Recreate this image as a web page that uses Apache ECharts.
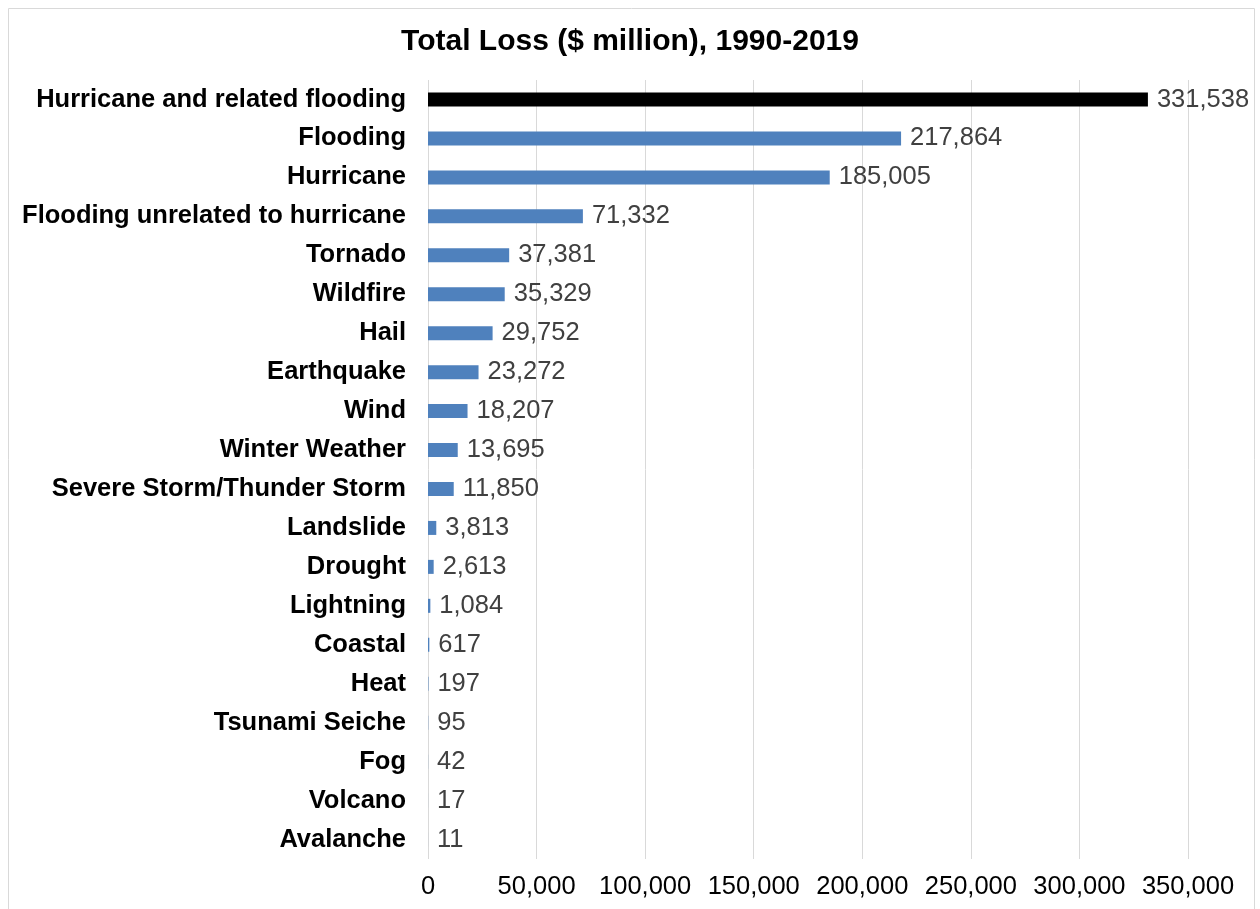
<!DOCTYPE html>
<html>
<head>
<meta charset="utf-8">
<script src="https://cdn.jsdelivr.net/npm/echarts@6/dist/echarts.min.js"></script>
<style>html,body{margin:0;padding:0;background:#fff}#c{width:1260px;height:909px}</style>
</head>
<body>
<div id="c"></div>
<script>
var categories = ["Hurricane and related flooding","Flooding","Hurricane","Flooding unrelated to hurricane","Tornado","Wildfire","Hail","Earthquake","Wind","Winter Weather","Severe Storm/Thunder Storm","Landslide","Drought","Lightning","Coastal","Heat","Tsunami Seiche","Fog","Volcano","Avalanche"];
var values = [331538,217864,185005,71332,37381,35329,29752,23272,18207,13695,11850,3813,2613,1084,617,197,95,42,17,11];
var highlightIndex = 0;
var xTicks = [0,50000,100000,150000,200000,250000,300000,350000];

var chart = echarts.init(document.getElementById('c'));
var font = '"Liberation Sans", Arial, sans-serif';
chart.setOption({
  animation: false,
  textStyle: {fontFamily: font},
  title: {
    text: 'Total Loss ($ million), 1990-2019',
    left: 'center', top: 22,
    textStyle: {fontFamily: font, fontSize: 30, fontWeight: 'bold', color: '#000'}
  },
  graphic: [{
    type: 'rect', shape: {x: 8.5, y: 8.5, width: 1246, height: 920},
    style: {fill: 'none', stroke: '#d9d9d9', lineWidth: 1}, silent: true
  }],
  grid: {left: 428, right: 72, top: 80, bottom: 50, containLabel: false},
  xAxis: {
    type: 'value', min: xTicks[0], max: xTicks[xTicks.length-1], interval: 50000,
    axisLine: {show: false}, axisTick: {show: false},
    splitLine: {show: true, lineStyle: {color: '#d9d9d9', width: 1}},
    axisLabel: {
      margin: 15, fontSize: 25.5, color: '#000', fontFamily: font,
      formatter: function(v){ return v.toLocaleString('en-US'); }
    }
  },
  yAxis: {
    type: 'category', data: categories, inverse: true,
    axisLine: {show: false}, axisTick: {show: false},
    axisLabel: {margin: 22, fontSize: 25.5, fontWeight: 'bold', color: '#000', fontFamily: font,
      padding: [4, 0, 0, 0]}
  },
  series: [{
    type: 'bar',
    data: values.map(function(v, i){
      return i === highlightIndex ? {value: v, itemStyle: {color: '#000'}} : v;
    }),
    barWidth: 14,
    itemStyle: {color: '#4f81bd'},
    label: {
      show: true, position: 'right', distance: 9,
      fontSize: 25.5, color: '#404040', fontFamily: font, padding: [4, 0, 0, 0],
      formatter: function(p){ return p.value.toLocaleString('en-US'); }
    }
  }]
});
</script>
</body>
</html>
